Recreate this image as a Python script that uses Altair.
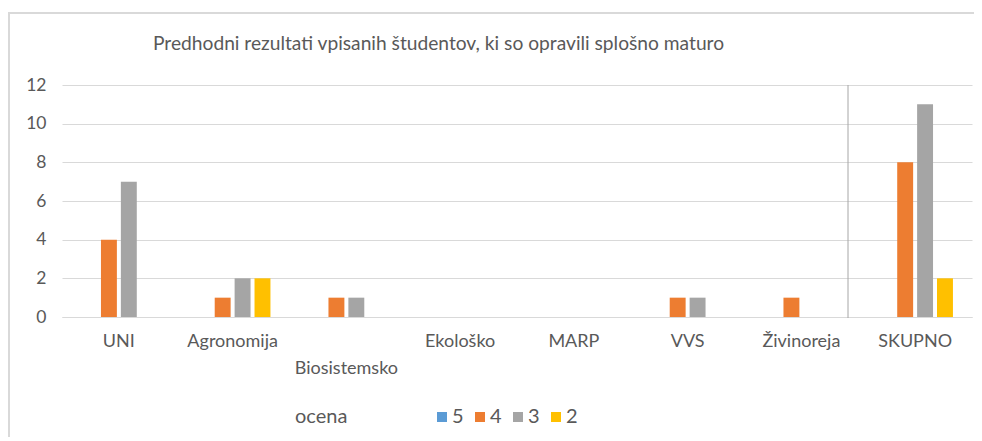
import altair as alt
import pandas as pd

categories = ["UNI", "Agronomija", "Biosistemsko", "Ekološko", "MARP", "VVS", "Živinoreja", "SKUPNO"]
series = ["5", "4", "3", "2"]
values = {
    "5": [0, 0, 0, 0, 0, 0, 0, 0],
    "4": [4, 1, 1, 0, 0, 1, 1, 8],
    "3": [7, 2, 1, 0, 0, 1, 0, 11],
    "2": [0, 2, 0, 0, 0, 0, 0, 2],
}
colors = ["#5B9BD5", "#ED7D31", "#A5A5A5", "#FFC000"]
title_text = "Predhodni rezultati vpisanih študentov, ki so opravili splošno maturo"
y_ticks = [0, 2, 4, 6, 8, 10, 12]

rows = []
for s in series:
    for c, v in zip(categories, values[s]):
        rows.append({"kategorija": c, "ocena": s, "vrednost": v})
df = pd.DataFrame(rows)

FONT = "Lato"
TXT = "#595959"
W, H = 910, 232

bars = alt.Chart(df).mark_bar().encode(
    x=alt.X("kategorija:N", sort=categories,
            scale=alt.Scale(paddingInner=0.3, paddingOuter=0.15),
            axis=alt.Axis(title=None, labelAngle=0, ticks=False, domainColor="#d9d9d9",
                          labelColor=TXT, labelFont=FONT, labelFontSize=18, labelPadding=15,
                          labelBaseline="top", labelLineHeight=27,
                          labelExpr="datum.label == 'Biosistemsko' ? [' ', datum.label] : datum.label")),
    xOffset=alt.XOffset("ocena:N", sort=series,
                        scale=alt.Scale(paddingInner=0.2, paddingOuter=0.1)),
    y=alt.Y("vrednost:Q", scale=alt.Scale(domain=[0, 12], nice=False),
            axis=alt.Axis(title=None, values=y_ticks, domain=False, ticks=False,
                          gridColor="#d9d9d9", labelColor=TXT, labelFont=FONT,
                          labelFontSize=17.5, labelPadding=16)),
    color=alt.Color("ocena:N", sort=series,
                    scale=alt.Scale(domain=series, range=colors),
                    legend=alt.Legend(orient="none", direction="horizontal", legendX=233, legendY=322,
                                      title="ocena", titleOrient="left", titlePadding=84,
                                      titleFont=FONT, titleFontSize=20, titleColor=TXT,
                                      titleFontWeight="normal", titleBaseline="middle",
                                      labelFont=FONT, labelFontSize=20, labelColor=TXT,
                                      symbolType="square", symbolSize=100, symbolStrokeWidth=0,
                                      labelOffset=0, columnPadding=6)),
)

sep = alt.Chart(pd.DataFrame({"a": [0]})).mark_rule(color="#a6a6a6", strokeWidth=1).encode(
    x=alt.value(786), y=alt.value(0), y2=alt.value(H + 1))

border_top = alt.Chart(pd.DataFrame({"a": [0]})).mark_rule(color="#d9d9d9", strokeWidth=2).encode(
    x=alt.value(-54), x2=alt.value(W + 2), y=alt.value(-72))
border_left = alt.Chart(pd.DataFrame({"a": [0]})).mark_rule(color="#d9d9d9", strokeWidth=2).encode(
    x=alt.value(-53), y=alt.value(-72), y2=alt.value(H + 124))

title = alt.Chart(pd.DataFrame({"t": [title_text]})).mark_text(
    align="left", baseline="middle", font=FONT, fontSize=19.2, color=TXT).encode(
    x=alt.value(91), y=alt.value(-41), text="t:N")

chart = alt.layer(bars, sep, border_top, border_left, title).properties(
    width=W, height=H,
    padding={"left": 54, "top": 77, "right": 2, "bottom": 120},
    autosize=alt.AutoSizeParams(type="none"),
).configure_view(stroke=None)

chart.save("out.html", embed_options={"renderer": "svg", "actions": False})
